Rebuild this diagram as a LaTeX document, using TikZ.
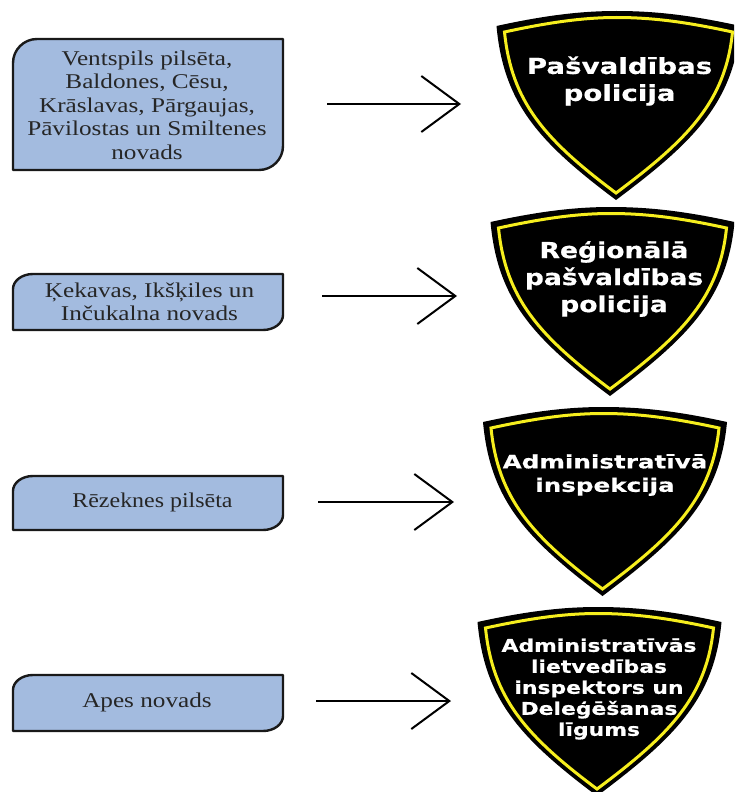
\documentclass[tikz,border=0pt]{standalone}
\usepackage{fontspec}
\setmainfont[FakeStretch=1.2]{Liberation Serif}
\newfontfamily\narrowserif[FakeStretch=1.14]{Liberation Serif}
\newfontfamily\shieldA[FakeStretch=1.26,FakeBold=0.5]{DejaVu Sans Bold}
\newfontfamily\shieldB[FakeStretch=1.21,FakeBold=0.5]{DejaVu Sans Bold}
\newfontfamily\shieldC[FakeStretch=1.33,FakeBold=0.5]{DejaVu Sans Bold}
\newfontfamily\shieldD[FakeStretch=1.25,FakeBold=0.5]{DejaVu Sans Bold}
\usetikzlibrary{arrows.meta}
\definecolor{boxblue}{HTML}{A3BBDF}
\definecolor{shieldyellow}{HTML}{F6EE1E}
\tikzset{
  x=1pt,y=-1pt,
  boxline/.style={draw=black!90,line width=2.4pt,fill=boxblue,line join=round},
  boxtext/.style={align=center,font=\fontsize{21}{23.5}\selectfont,text=black!85,inner sep=0pt},
  shieldtext/.style={align=center,text=white,inner sep=0pt},
  bigarrow/.style={line width=2pt,draw=black,-{Straight Barb[length=38pt,width=56pt,line width=2pt]}},
  pics/shield/.style={code={
    \fill[black] (-122,15) .. controls (-72,4) and (-36,0) .. (-2,0)
      .. controls (36,0) and (72,4) .. (122,15)
      .. controls (115,92) and (75,131) .. (-2.5,189)
      .. controls (-80,131) and (-115,92) .. (-122,15) -- cycle;
    \draw[shieldyellow,line width=3pt,line join=miter]
      (-114,21) .. controls (-68,11) and (-34,6.5) .. (-2,6.5)
      .. controls (34,6.5) and (68,11) .. (114,21)
      .. controls (107,90) and (70,128) .. (-2.5,182)
      .. controls (-75,128) and (-107,90) .. (-114,21) -- cycle;
  }}
}
\begin{document}
\begin{tikzpicture}
\useasboundingbox (0,0) rectangle (734,792);
\clip (0,0) rectangle (734,792);
% boxes
\draw[boxline] (37,39) -- (283,39) -- (283,146) arc[start angle=0,end angle=90,radius=24] -- (13,170) -- (13,63) arc[start angle=180,end angle=270,radius=24] -- cycle;
\node[boxtext] (b1) at (147,105) {Ventspils pilsēta,\\Baldones, Cēsu,\\Krāslavas, Pārgaujas,\\Pāvilostas un Smiltenes\\novads};
\draw[boxline] (33,274) -- (283,274) -- (283,315) arc[start angle=0,end angle=90,x radius=20,y radius=15] -- (13,330) -- (13,289) arc[start angle=180,end angle=270,x radius=20,y radius=15] -- cycle;
\node[boxtext] (b2) at (149.5,302) {Ķekavas, Ikšķiles un\\Inčukalna novads};
\draw[boxline] (33,476) -- (283,476) -- (283,515) arc[start angle=0,end angle=90,x radius=20,y radius=15] -- (13,530) -- (13,491) arc[start angle=180,end angle=270,x radius=20,y radius=15] -- cycle;
\node[boxtext,font=\narrowserif\fontsize{21}{23.5}\selectfont] (b3) at (152.5,502) {Rēzeknes pilsēta};
\draw[boxline] (33,675) -- (283,675) -- (283,716) arc[start angle=0,end angle=90,x radius=20,y radius=15] -- (13,731) -- (13,690) arc[start angle=180,end angle=270,x radius=20,y radius=15] -- cycle;
\node[boxtext] (b4) at (147,702) {Apes novads};
% arrows
\coordinate (a1s) at (327,104); \coordinate (a1e) at (461,104);
\coordinate (a2s) at (322,296); \coordinate (a2e) at (457,296);
\coordinate (a3s) at (318,502); \coordinate (a3e) at (454,502);
\coordinate (a4s) at (316,701); \coordinate (a4e) at (451,701);
\draw[bigarrow] (a1s) -- (a1e);
\draw[bigarrow] (a2s) -- (a2e);
\draw[bigarrow] (a3s) -- (a3e);
\draw[bigarrow] (a4s) -- (a4e);
% shields
\pic at (618.5,11) {shield};
\pic at (612.5,207) {shield};
\pic at (605,407) {shield};
\pic at (599.5,607) {shield};
\node[shieldtext,font=\shieldA\fontsize{22}{27}\selectfont] (s1) at (619.5,81) {Pašvaldības\\policija};
\node[shieldtext,font=\shieldB\fontsize{22}{27}\selectfont] (s2) at (614,279) {Reģionālā\\pašvaldības\\policija};
\node[shieldtext,font=\shieldC\fontsize{18.5}{23.5}\selectfont] (s3) at (605,475) {Administratīvā\\inspekcija};
\node[shieldtext,font=\shieldD\fontsize{17.5}{21}\selectfont] (s4) at (599,689) {Administratīvās\\lietvedības\\inspektors un\\Deleģēšanas\\līgums};
\end{tikzpicture}
\end{document}
